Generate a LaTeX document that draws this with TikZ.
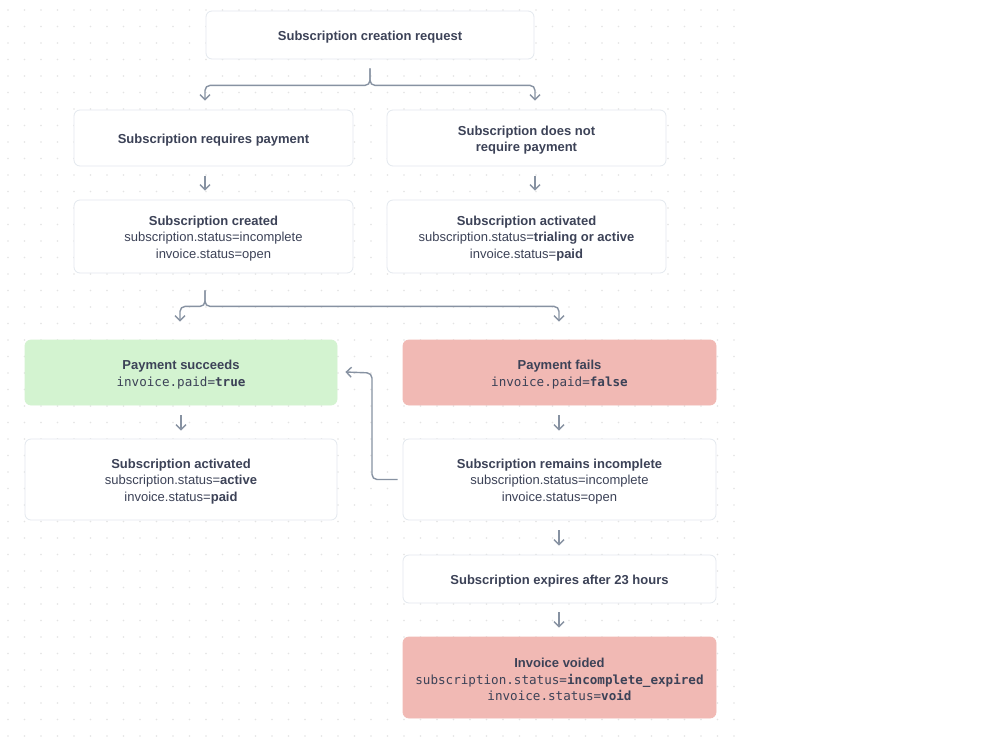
\documentclass[tikz,border=0pt]{standalone}
\usepackage{fontspec}
\setmainfont{Liberation Sans}
\newfontfamily\monof{DejaVu Sans Mono}
\usetikzlibrary{arrows.meta}
\definecolor{txt}{HTML}{3C4257}
\definecolor{conn}{HTML}{8792A2}
\definecolor{bord}{HTML}{E3E8EE}
\definecolor{gfill}{HTML}{D3F3D0}
\definecolor{rfill}{HTML}{F1B9B4}
\definecolor{dotc}{HTML}{E4E4E4}
\newcommand{\mt}[1]{{\monof\fontsize{12.6}{16.5}\selectfont #1}}
\newcommand{\fl}{\rule{0pt}{13.5pt}}
\tikzset{
  box/.style={draw=bord, line width=0.8pt, fill=white, rounded corners=6pt, inner sep=0pt,
    align=center, text=txt, font=\fontsize{13}{16.5}\selectfont},
  okbox/.style={box, draw=gfill, fill=gfill},
  badbox/.style={box, draw=rfill, fill=rfill},
  link/.style={draw=conn, line width=1.4pt, rounded corners=5pt,
    -{Straight Barb[length=5pt,width=10pt,line width=1.4pt]}},
}
\begin{document}
\begin{tikzpicture}[x=1pt,y=-1pt]
\useasboundingbox (0,0) rectangle (1000,750);
\fill[white] (0,0) rectangle (1000,750);
\foreach \i in {0,...,44}{
  \foreach \j in {0,...,44}{
    \fill[dotc] ({8+16.5*\i},{10+16.5*\j}) circle (0.9);
  }
}
\node[box, minimum width=328, minimum height=48] (top) at (370,35) {\fl\textbf{Subscription creation request}};
\node[box, minimum width=279, minimum height=56] (req) at (213.5,138) {\fl\textbf{Subscription requires payment}};
\node[box, minimum width=279, minimum height=56] (noreq) at (526.5,138) {\fl\textbf{Subscription does not}\\\textbf{require payment}};
\node[box, minimum width=279, minimum height=73] (created) at (213.5,236.5) {\fl\textbf{Subscription created}\\subscription.status=incomplete\\invoice.status=open};
\node[box, minimum width=279, minimum height=73] (act1) at (526.5,236.5) {\fl\textbf{Subscription activated}\\subscription.status=\textbf{trialing or active}\\invoice.status=\textbf{paid}};
\node[okbox, minimum width=312, minimum height=65] (succ) at (181,372.5) {\fl\textbf{Payment succeeds}\\\mt{invoice.paid=\textbf{true}}};
\node[badbox, minimum width=313, minimum height=65] (fail) at (559.5,372.5) {\fl\textbf{Payment fails}\\\mt{invoice.paid=\textbf{false}}};
\node[box, minimum width=312, minimum height=81] (act2) at (181,479.5) {\fl\textbf{Subscription activated}\\subscription.status=\textbf{active}\\invoice.status=\textbf{paid}};
\node[box, minimum width=313, minimum height=81] (remain) at (559.5,479.5) {\fl\textbf{Subscription remains incomplete}\\subscription.status=incomplete\\invoice.status=open};
\node[box, minimum width=313, minimum height=48] (expire) at (559.5,579) {\fl\textbf{Subscription expires after 23 hours}};
\node[badbox, minimum width=313, minimum height=81] (voided) at (559.5,677.5) {\fl\textbf{Invoice voided}\\\mt{subscription.status=\textbf{incomplete\_expired}}\\\mt{invoice.status=\textbf{void}}};
% branch 1
\coordinate (j1) at ([yshift=-9pt]top.south);
\draw[link] (j1) -- ++(0,17) -| ([xshift=-8.5pt,yshift=9pt]req.north);
\draw[link] (j1) -- ++(0,17) -| ([xshift=8.5pt,yshift=9pt]noreq.north);
\draw[link] ([xshift=-8.5pt,yshift=-10pt]req.south) -- ([xshift=-8.5pt,yshift=9pt]created.north);
\draw[link] ([xshift=8.5pt,yshift=-10pt]noreq.south) -- ([xshift=8.5pt,yshift=9pt]act1.north);
% branch 2
\coordinate (j2) at ([xshift=-8.5pt,yshift=-17pt]created.south);
\draw[link] (j2) -- ++(0,16) -| ([xshift=-1pt,yshift=18pt]succ.north);
\draw[link] (j2) -- ++(0,16) -| ([xshift=-0.5pt,yshift=18pt]fail.north);
\draw[link] ([yshift=-10pt]succ.south) -- ([yshift=8pt]act2.north);
\draw[link] ([xshift=-0.5pt,yshift=-10pt]fail.south) -- ([xshift=-0.5pt,yshift=8pt]remain.north);
\draw[link] ([xshift=-0.5pt,yshift=-10pt]remain.south) -- ([xshift=-0.5pt,yshift=9pt]expire.north);
\draw[link] ([xshift=-0.5pt,yshift=-9pt]expire.south) -- ([xshift=-0.5pt,yshift=9pt]voided.north);
% loop back
\draw[link] ([xshift=-5pt]remain.west) -| (372,373) -- ([xshift=8pt,yshift=0.5pt]succ.east);
\end{tikzpicture}
\end{document}
